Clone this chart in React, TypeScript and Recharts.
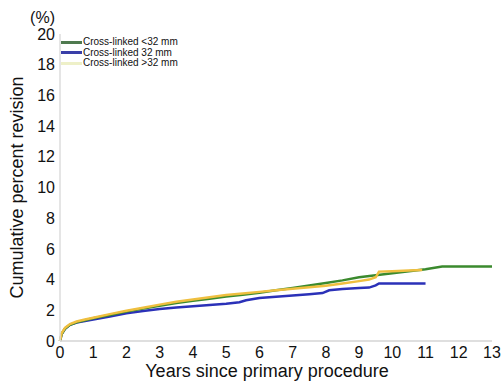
import { LineChart, Line, XAxis, YAxis, Label } from "recharts"

// Cross-linked <32 mm
const smallYears = [0, 0.05, 0.15, 0.3, 0.5, 0.75, 1, 1.5, 2, 2.5, 3, 3.5, 4, 4.5, 5, 5.5, 6, 6.5, 7, 7.5, 8, 8.5, 9, 9.5, 10, 10.5, 11, 11.5, 12, 12.5, 13]
const smallRates = [0, 0.45, 0.8, 1.05, 1.22, 1.35, 1.48, 1.7, 1.92, 2.12, 2.3, 2.47, 2.62, 2.75, 2.9, 3.02, 3.15, 3.3, 3.45, 3.62, 3.78, 3.95, 4.15, 4.28, 4.42, 4.55, 4.67, 4.85, 4.85, 4.85, 4.85]

// Cross-linked 32 mm
const midYears = [0, 0.05, 0.15, 0.3, 0.5, 0.75, 1, 1.5, 2, 2.5, 3, 3.5, 4, 4.5, 5, 5.4, 5.6, 6, 6.5, 7, 7.5, 7.9, 8.1, 8.5, 9, 9.3, 9.5, 9.6, 10, 10.5, 11]
const midRates = [0, 0.45, 0.8, 1.05, 1.2, 1.3, 1.4, 1.6, 1.8, 1.95, 2.08, 2.18, 2.27, 2.35, 2.43, 2.52, 2.65, 2.8, 2.88, 2.97, 3.05, 3.12, 3.3, 3.38, 3.45, 3.48, 3.62, 3.75, 3.75, 3.75, 3.75]

// Cross-linked >32 mm
const largeYears = [0, 0.05, 0.15, 0.3, 0.5, 0.75, 1, 1.5, 2, 2.5, 3, 3.5, 4, 4.5, 5, 5.5, 6, 6.5, 7, 7.5, 8, 8.5, 9, 9.3, 9.5, 9.6, 10, 10.5, 10.9]
const largeRates = [0, 0.5, 0.85, 1.1, 1.27, 1.4, 1.52, 1.75, 1.97, 2.17, 2.37, 2.55, 2.7, 2.85, 3.0, 3.1, 3.2, 3.3, 3.4, 3.5, 3.6, 3.75, 3.9, 4.0, 4.15, 4.52, 4.55, 4.6, 4.62]

const xTicks = [0, 1, 2, 3, 4, 5, 6, 7, 8, 9, 10, 11, 12, 13]
const yTicks = [0, 2, 4, 6, 8, 10, 12, 14, 16, 18, 20]

const seriesNames = ["Cross-linked <32 mm", "Cross-linked 32 mm", "Cross-linked >32 mm"]
const colors = ["#3b8a2e", "#2b31b8", "#efbf3f"]
const swatchColors = ["#4f7a4f", "#3a3fa8", "#eef0c8"]

const toPoints = (xs: number[], ys: number[]) => xs.map((x, i) => ({ x, y: ys[i] }))

const smallData = toPoints(smallYears, smallRates)
const midData = toPoints(midYears, midRates)
const largeData = toPoints(largeYears, largeRates)

const font = "'Liberation Sans', Arial, sans-serif"

function LegendBox() {
  // sits inside the plot, top-left, like the original
  return (
    <div
      style={{
        position: "absolute",
        top: 37,
        left: 61,
        fontFamily: font,
        fontSize: 10,
        lineHeight: "10.5px",
        color: "#111",
      }}
    >
      {seriesNames.map((name, i) => (
        <div key={name} style={{ display: "flex", alignItems: "center" }}>
          <span style={{ display: "inline-block", width: 21, height: 3, background: swatchColors[i], marginRight: 1 }} />
          <span>{name}</span>
        </div>
      ))}
    </div>
  )
}

function YTitle(props: any) {
  const vb = props.viewBox
  const cy = vb.y + vb.height / 2
  return (
    <g fontFamily={font} fill="#111">
      <text x={55} y={23} textAnchor="end" fontSize={16}>(%)</text>
      <text x={23} y={cy} textAnchor="middle" fontSize={18} transform={`rotate(-90, 23, ${cy})`}>
        Cumulative percent revision
      </text>
    </g>
  )
}

function XTitle(props: any) {
  const vb = props.viewBox
  return (
    <text x={vb.x + vb.width / 2 - 9} y={377} textAnchor="middle" fontSize={18} fontFamily={font} fill="#111">
      Years since primary procedure
    </text>
  )
}

export default function App() {
  return (
    <div style={{ position: "absolute", left: 0, top: 0, width: 502, height: 384, background: "#fff" }}>
      <LineChart width={502} height={384} margin={{ top: 34, right: 10, bottom: 0, left: 0 }}>
        <XAxis
          type="number"
          dataKey="x"
          domain={[0, 13]}
          ticks={xTicks}
          interval={0}
          height={43}
          tickLine={false}
          tickSize={6}
          tickMargin={0}
          axisLine={{ stroke: "#d4d4d4", strokeWidth: 1.5 }}
          tick={{ fontSize: 16, fill: "#111", fontFamily: font }}
        >
          <Label content={XTitle} />
        </XAxis>
        <YAxis
          type="number"
          dataKey="y"
          domain={[0, 20]}
          ticks={yTicks}
          interval={0}
          width={60}
          tickLine={false}
          tickSize={5}
          tickMargin={0}
          axisLine={{ stroke: "#dcdcdc", strokeWidth: 1.5 }}
          tick={{ fontSize: 16, fill: "#111", fontFamily: font }}
        >
          <Label content={YTitle} />
        </YAxis>
        <Line data={midData} dataKey="y" type="linear" stroke={colors[1]} strokeWidth={2.5} dot={false} isAnimationActive={false} />
        <Line data={smallData} dataKey="y" type="linear" stroke={colors[0]} strokeWidth={2.5} dot={false} isAnimationActive={false} />
        <Line data={largeData} dataKey="y" type="linear" stroke={colors[2]} strokeWidth={2.5} dot={false} isAnimationActive={false} />
      </LineChart>
      <LegendBox />
    </div>
  )
}
